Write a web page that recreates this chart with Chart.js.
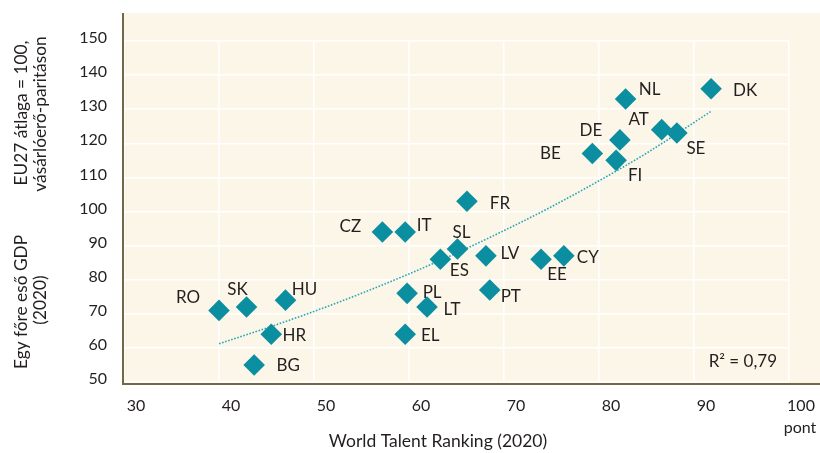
<!DOCTYPE html>
<html>
<head>
<meta charset="utf-8">
<script src="https://cdn.jsdelivr.net/npm/chart.js@4/dist/chart.umd.min.js"></script>
<style>
  body { margin: 0; background: #fff; }
  #wrap { width: 820px; height: 453px; position: relative; }
</style>
</head>
<body>
<div id="wrap"><canvas id="talent-chart"></canvas></div>
<script>
// country codes, World Talent Ranking score, GDP per capita (EU27 = 100)
const countries = ['RO', 'SK', 'HU', 'HR', 'BG', 'CZ', 'IT', 'SL', 'ES', 'PL', 'LT', 'EL',
                   'FR', 'LV', 'PT', 'EE', 'CY', 'BE', 'DE', 'FI', 'NL', 'AT', 'SE', 'DK'];
const talentScore = [40.0, 42.9, 47.0, 45.5, 43.7, 57.2, 59.6, 65.1, 63.3, 59.8, 61.9, 59.6,
                     66.1, 68.1, 68.5, 73.9, 76.3, 79.3, 82.2, 81.8, 82.8, 86.6, 88.2, 91.8];
const gdpIndex = [71, 72, 74, 64, 55, 94, 94, 89, 86, 76, 72, 64,
                  103, 87, 77, 86, 87, 117, 121, 115, 133, 124, 123, 136];

// trendline
const trendX = [40, 45, 50, 55, 60, 65, 70, 75, 80, 85, 91.8];
const trendY = [61.2, 65.8, 70.7, 76.0, 81.7, 87.8, 94.4, 101.4, 109.0, 117.1, 129.4];

const xTicks = [30, 40, 50, 60, 70, 80, 90, 100];
const yTicks = [50, 60, 70, 80, 90, 100, 110, 120, 130, 140, 150];
const rSquared = 'R² = 0,79';

// where each country label sits relative to its marker (px)
const labelOffsets = {
    RO: [-31, -13], SK: [-9, -17], HU: [19, -11], HR: [23, 1], BG: [34, 1],
    CZ: [-32, -5], IT: [19, -6], SL: [4, -16], ES: [19, 11], PL: [25, -1],
    LT: [25, 3], EL: [25, 1], FR: [33, 2], LV: [24, -2], PT: [21, 7],
    EE: [16, 15], CY: [24, 2], BE: [-42, 0], DE: [-29, -9], FI: [19, 15],
    NL: [24, -9], AT: [-23, -10], SE: [19, 15], DK: [34, 2]
};

const teal = '#0b8fa0';
const textColor = '#231f20';
const font = 'Lato, "Open Sans", sans-serif';

const decorPlugin = {
    id: 'decor',
    beforeDraw(chart) {
        const ctx = chart.ctx;
        const area = chart.chartArea;
        ctx.save();
        ctx.fillStyle = '#fcf6e9';
        ctx.fillRect(area.left - 1, 13, chart.width - area.left + 1, area.bottom + 2 - 13);
        ctx.restore();
    },
    beforeDatasetsDraw(chart) {
        const ctx = chart.ctx;
        const area = chart.chartArea;
        ctx.save();
        ctx.strokeStyle = '#72684a';
        ctx.lineWidth = 2;
        ctx.beginPath();
        ctx.moveTo(area.left - 1, 13);
        ctx.lineTo(area.left - 1, area.bottom + 2);
        ctx.lineTo(chart.width, area.bottom + 2);
        ctx.stroke();
        ctx.restore();
    },
    afterDatasetsDraw(chart) {
        const ctx = chart.ctx;
        const meta = chart.getDatasetMeta(0);
        ctx.save();
        ctx.fillStyle = textColor;
        ctx.font = '17px ' + font;
        ctx.textAlign = 'center';
        ctx.textBaseline = 'middle';
        meta.data.forEach((pt, i) => {
            const off = labelOffsets[countries[i]];
            ctx.fillText(countries[i], pt.x + off[0], pt.y + off[1]);
        });

        ctx.textAlign = 'right';
        ctx.fillText(rSquared, 777, 362);

        ctx.font = '17.5px ' + font;
        ctx.textAlign = 'center';
        ctx.fillText('World Talent Ranking (2020)', 438, 441);
        ctx.font = '16px ' + font;
        ctx.fillText('pont', 800, 428);

        // y axis title, two blocks
        ctx.font = '17.3px ' + font;
        const vText = (txt, x, y) => {
            ctx.save();
            ctx.translate(x, y);
            ctx.rotate(-Math.PI / 2);
            ctx.fillText(txt, 0, 0);
            ctx.restore();
        };
        vText('EU27 átlaga = 100,', 21, 113);
        vText('vásárlóerő-paritáson', 40, 114);
        vText('Egy főre eső GDP', 21, 302);
        vText('(2020)', 40, 300);
        ctx.restore();
    }
};

new Chart(document.querySelector('#talent-chart').getContext('2d'), {
    type: 'scatter',
    data: {
        datasets: [{
            label: 'countries',
            data: talentScore.map((x, i) => ({ x: x, y: gdpIndex[i] })),
            pointStyle: 'rectRot',
            pointRadius: 10.8,
            pointBorderWidth: 0,
            backgroundColor: teal,
            borderColor: teal
        }, {
            label: 'trend',
            data: trendX.map((x, i) => ({ x: x, y: trendY[i] })),
            showLine: true,
            pointRadius: 0,
            borderColor: '#2aa6b6',
            borderWidth: 1.6,
            borderDash: [1.6, 1.6],
            cubicInterpolationMode: 'monotone'
        }]
    },
    options: {
        responsive: true,
        maintainAspectRatio: false,
        animation: false,
        layout: { padding: { top: 41, right: 31, left: 0, bottom: 0 } },
        plugins: { legend: { display: false }, tooltip: { enabled: false } },
        scales: {
            x: {
                min: 30, max: 100,
                afterBuildTicks: scale => { scale.ticks = xTicks.map(v => ({ value: v })); },
                afterFit: scale => { scale.height = 71; },
                grid: { color: '#ffffff', lineWidth: 1.6, drawTicks: false },
                border: { display: false },
                ticks: { font: { family: font, size: 16 }, color: textColor, padding: 14, labelOffset: 12, maxRotation: 0 }
            },
            y: {
                min: 50, max: 150,
                afterBuildTicks: scale => { scale.ticks = yTicks.map(v => ({ value: v })); },
                afterFit: scale => { scale.width = 124; },
                grid: { color: '#ffffff', lineWidth: 1.6, drawTicks: false },
                border: { display: false },
                ticks: { font: { family: font, size: 16 }, color: textColor, padding: 17, labelOffset: -3 }
            }
        }
    },
    plugins: [decorPlugin]
});
</script>
</body>
</html>
